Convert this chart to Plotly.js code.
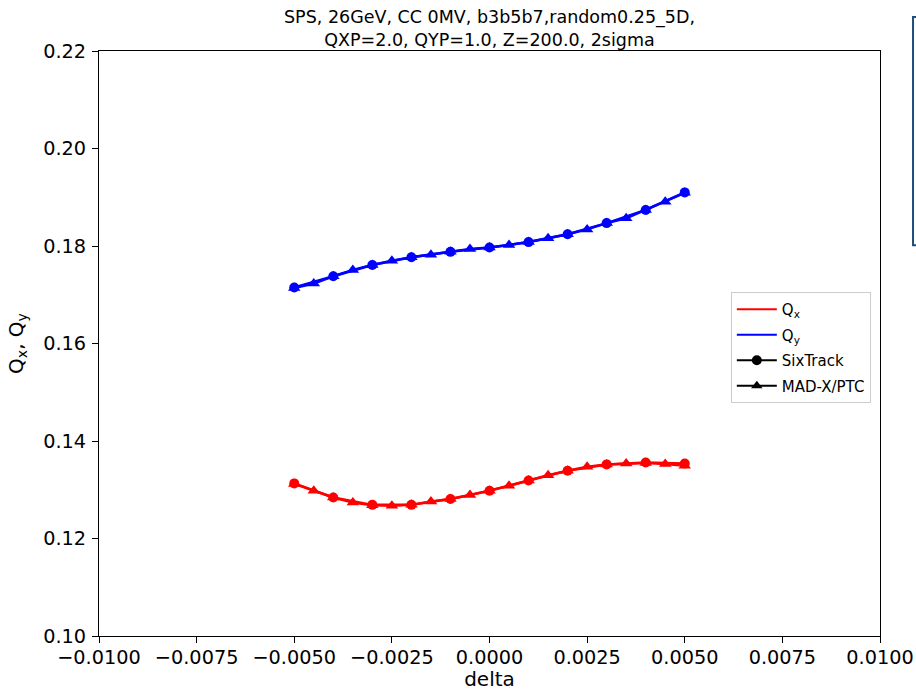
<!DOCTYPE html>
<html>
<head>
<meta charset="utf-8">
<script src="https://cdn.plot.ly/plotly-3.0.1.min.js"></script>
<style>
  html, body { margin: 0; padding: 0; background: #ffffff; }
  #chart { width: 916px; height: 691px; }
</style>
</head>
<body>
<div id="chart"></div>
<script>
// Momentum offsets (delta) for the two codes
const deltaSixTrack = [-0.005, -0.004, -0.003, -0.002, -0.001, 0.0, 0.001, 0.002, 0.003, 0.004, 0.005];
const deltaMadx = [-0.005, -0.0045, -0.004, -0.0035, -0.003, -0.0025, -0.002, -0.0015, -0.001, -0.0005,
                   0.0, 0.0005, 0.001, 0.0015, 0.002, 0.0025, 0.003, 0.0035, 0.004, 0.0045, 0.005];

// Horizontal tune Qx
const qxSixTrack = [0.1313, 0.1284, 0.1269, 0.1269, 0.1281, 0.1298, 0.1319, 0.1339, 0.1352, 0.1356, 0.1354];
const qxMadx = [0.1312, 0.1298, 0.1284, 0.1274, 0.1268, 0.1267, 0.1269, 0.1276, 0.1281, 0.1289, 0.1298,
                0.1308, 0.1319, 0.1330, 0.1339, 0.1347, 0.1352, 0.1354, 0.1355, 0.1353, 0.1349];

// Vertical tune Qy
const qySixTrack = [0.1715, 0.1738, 0.1761, 0.1777, 0.1788, 0.1797, 0.1808, 0.1824, 0.1847, 0.1874, 0.1910];
const qyMadx = [0.1714, 0.1723, 0.1738, 0.1751, 0.1761, 0.1770, 0.1777, 0.1782, 0.1788, 0.1794, 0.1797,
                0.1802, 0.1808, 0.1816, 0.1824, 0.1834, 0.1847, 0.1857, 0.1874, 0.1891, 0.1909];

const xTicks = [-0.01, -0.0075, -0.005, -0.0025, 0.0, 0.0025, 0.005, 0.0075, 0.01];
const yTicks = [0.10, 0.12, 0.14, 0.16, 0.18, 0.20, 0.22];

const RED = '#ff0000';
const BLUE = '#0000ff';
const LW = 2.5;

function series(x, y, color, symbol, size) {
  return {
    x: x, y: y, type: 'scatter', mode: 'lines+markers',
    line: { color: color, width: LW },
    marker: { color: color, size: size, symbol: symbol },
    showlegend: false, hoverinfo: 'x+y'
  };
}

function legendEntry(name, color, mode, symbol, group) {
  const t = {
    x: [null], y: [null], type: 'scatter', mode: mode, name: name,
    legendgroup: group,
    line: { color: color, width: 2 }, showlegend: true
  };
  if (symbol) t.marker = { color: color, size: 10, symbol: symbol };
  return t;
}

const traces = [
  series(deltaMadx, qxMadx, RED, 'triangle-up', 11),
  series(deltaMadx, qyMadx, BLUE, 'triangle-up', 11),
  series(deltaSixTrack, qxSixTrack, RED, 'circle', 10),
  series(deltaSixTrack, qySixTrack, BLUE, 'circle', 10),
  legendEntry('Q<sub>x</sub>', RED, 'lines', null, 'g1'),
  legendEntry('Q<sub>y</sub>', BLUE, 'lines', null, 'g2'),
  legendEntry('SixTrack', '#000000', 'lines+markers', 'circle', 'g3'),
  legendEntry('MAD-X/PTC', '#000000', 'lines+markers', 'triangle-up', 'g4')
];

const FONT = 'DejaVu Sans, sans-serif';

const layout = {
  width: 916, height: 691,
  margin: { l: 99, r: 36, t: 51, b: 55 },
  paper_bgcolor: '#ffffff',
  plot_bgcolor: '#ffffff',
  font: { family: FONT, color: '#000000' },
  title: {
    text: 'SPS, 26GeV, CC 0MV, b3b5b7,random0.25_5D,<br>QXP=2.0, QYP=1.0, Z=200.0, 2sigma',
    font: { family: FONT, size: 17.5, color: '#000000' },
    xref: 'paper', x: 0.5, xanchor: 'center',
    yref: 'container', y: 0.9668, yanchor: 'middle'
  },
  xaxis: {
    range: [-0.01, 0.01],
    tickvals: xTicks,
    tickformat: '.4f',
    ticks: 'outside', ticklen: 6, tickwidth: 1, tickcolor: '#000',
    ticklabelstandoff: -2,
    showline: true, linecolor: '#000', linewidth: 1, mirror: true,
    showgrid: false, zeroline: false,
    tickfont: { family: FONT, size: 19.3, color: '#000' },
    title: { text: 'delta', font: { family: FONT, size: 20, color: '#000' }, standoff: 6 }
  },
  yaxis: {
    range: [0.10, 0.22],
    tickvals: yTicks,
    tickformat: '.2f',
    ticks: 'outside', ticklen: 6, tickwidth: 1, tickcolor: '#000',
    ticklabelstandoff: 2,
    showline: true, linecolor: '#000', linewidth: 1, mirror: true,
    showgrid: false, zeroline: false,
    tickfont: { family: FONT, size: 19.3, color: '#000' },
    title: { text: 'Q<sub>x</sub>, Q<sub>y</sub>', font: { family: FONT, size: 20, color: '#000' }, standoff: 14 }
  },
  legend: {
    x: 0.809, y: 0.588, xanchor: 'left', yanchor: 'top',
    bgcolor: '#ffffff', bordercolor: '#cccccc', borderwidth: 1,
    font: { family: FONT, size: 15, color: '#000' },
    itemwidth: 40,
    tracegroupgap: 3
  },
  shapes: [
    // framed panel edge at the far right
    { type: 'path', xref: 'paper', yref: 'paper',
      path: 'M 1.065,1.058 L 1.0423,1.058 L 1.0423,0.668 L 1.065,0.668',
      line: { color: '#1f4e79', width: 2 } }
  ]
};

Plotly.newPlot('chart', traces, layout, { displayModeBar: false, staticPlot: true });
</script>
</body>
</html>
